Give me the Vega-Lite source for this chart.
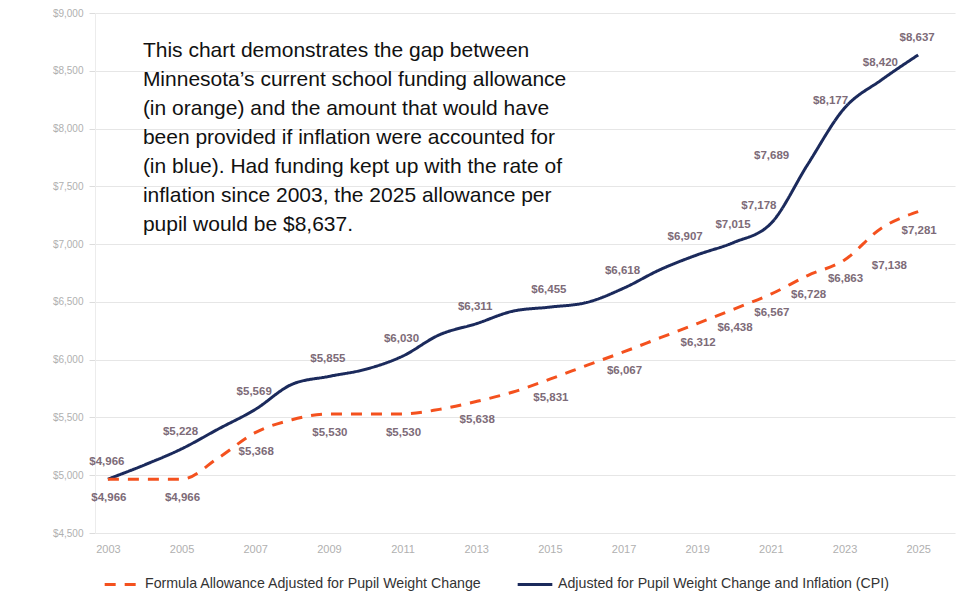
{
  "$schema": "https://vega.github.io/schema/vega-lite/v6.json",
  "width": 860,
  "height": 520,
  "autosize": "none",
  "padding": {"left": 95, "top": 13, "right": 9, "bottom": 63},
  "background": "white",
  "config": {
    "view": {"stroke": null},
    "font": "Liberation Sans",
    "axis": {"labelFont": "Liberation Sans", "labelColor": "#b0b0b0", "labelFontSize": 10},
    "text": {"fontSize": 11.5, "fontWeight": "bold", "color": "#7d6b78", "font": "Liberation Sans"}
  },
  "datasets": {
    "funding": [
      {"year": 2003, "series": "Adjusted for Pupil Weight Change and Inflation (CPI)", "value": 4966},
      {"year": 2004, "series": "Adjusted for Pupil Weight Change and Inflation (CPI)", "value": 5090},
      {"year": 2005, "series": "Adjusted for Pupil Weight Change and Inflation (CPI)", "value": 5228},
      {"year": 2006, "series": "Adjusted for Pupil Weight Change and Inflation (CPI)", "value": 5400},
      {"year": 2007, "series": "Adjusted for Pupil Weight Change and Inflation (CPI)", "value": 5569},
      {"year": 2008, "series": "Adjusted for Pupil Weight Change and Inflation (CPI)", "value": 5787},
      {"year": 2009, "series": "Adjusted for Pupil Weight Change and Inflation (CPI)", "value": 5855},
      {"year": 2010, "series": "Adjusted for Pupil Weight Change and Inflation (CPI)", "value": 5917},
      {"year": 2011, "series": "Adjusted for Pupil Weight Change and Inflation (CPI)", "value": 6030},
      {"year": 2012, "series": "Adjusted for Pupil Weight Change and Inflation (CPI)", "value": 6215},
      {"year": 2013, "series": "Adjusted for Pupil Weight Change and Inflation (CPI)", "value": 6311},
      {"year": 2014, "series": "Adjusted for Pupil Weight Change and Inflation (CPI)", "value": 6420},
      {"year": 2015, "series": "Adjusted for Pupil Weight Change and Inflation (CPI)", "value": 6455},
      {"year": 2016, "series": "Adjusted for Pupil Weight Change and Inflation (CPI)", "value": 6495},
      {"year": 2017, "series": "Adjusted for Pupil Weight Change and Inflation (CPI)", "value": 6618},
      {"year": 2018, "series": "Adjusted for Pupil Weight Change and Inflation (CPI)", "value": 6780},
      {"year": 2019, "series": "Adjusted for Pupil Weight Change and Inflation (CPI)", "value": 6907},
      {"year": 2020, "series": "Adjusted for Pupil Weight Change and Inflation (CPI)", "value": 7015},
      {"year": 2021, "series": "Adjusted for Pupil Weight Change and Inflation (CPI)", "value": 7178},
      {"year": 2022, "series": "Adjusted for Pupil Weight Change and Inflation (CPI)", "value": 7689},
      {"year": 2023, "series": "Adjusted for Pupil Weight Change and Inflation (CPI)", "value": 8177},
      {"year": 2024, "series": "Adjusted for Pupil Weight Change and Inflation (CPI)", "value": 8420},
      {"year": 2025, "series": "Adjusted for Pupil Weight Change and Inflation (CPI)", "value": 8637},
      {"year": 2003, "series": "Formula Allowance Adjusted for Pupil Weight Change", "value": 4966},
      {"year": 2004, "series": "Formula Allowance Adjusted for Pupil Weight Change", "value": 4966},
      {"year": 2005, "series": "Formula Allowance Adjusted for Pupil Weight Change", "value": 4966},
      {"year": 2006, "series": "Formula Allowance Adjusted for Pupil Weight Change", "value": 5150},
      {"year": 2007, "series": "Formula Allowance Adjusted for Pupil Weight Change", "value": 5368},
      {"year": 2008, "series": "Formula Allowance Adjusted for Pupil Weight Change", "value": 5480},
      {"year": 2009, "series": "Formula Allowance Adjusted for Pupil Weight Change", "value": 5530},
      {"year": 2010, "series": "Formula Allowance Adjusted for Pupil Weight Change", "value": 5530},
      {"year": 2011, "series": "Formula Allowance Adjusted for Pupil Weight Change", "value": 5530},
      {"year": 2012, "series": "Formula Allowance Adjusted for Pupil Weight Change", "value": 5570},
      {"year": 2013, "series": "Formula Allowance Adjusted for Pupil Weight Change", "value": 5638},
      {"year": 2014, "series": "Formula Allowance Adjusted for Pupil Weight Change", "value": 5720},
      {"year": 2015, "series": "Formula Allowance Adjusted for Pupil Weight Change", "value": 5831},
      {"year": 2016, "series": "Formula Allowance Adjusted for Pupil Weight Change", "value": 5950},
      {"year": 2017, "series": "Formula Allowance Adjusted for Pupil Weight Change", "value": 6067},
      {"year": 2018, "series": "Formula Allowance Adjusted for Pupil Weight Change", "value": 6190},
      {"year": 2019, "series": "Formula Allowance Adjusted for Pupil Weight Change", "value": 6312},
      {"year": 2020, "series": "Formula Allowance Adjusted for Pupil Weight Change", "value": 6438},
      {"year": 2021, "series": "Formula Allowance Adjusted for Pupil Weight Change", "value": 6567},
      {"year": 2022, "series": "Formula Allowance Adjusted for Pupil Weight Change", "value": 6728},
      {"year": 2023, "series": "Formula Allowance Adjusted for Pupil Weight Change", "value": 6863},
      {"year": 2024, "series": "Formula Allowance Adjusted for Pupil Weight Change", "value": 7138},
      {"year": 2025, "series": "Formula Allowance Adjusted for Pupil Weight Change", "value": 7281}
    ],
    "note": [
      {"year": 2003.95, "value": 8770, "text": "This chart demonstrates the gap between|Minnesota’s current school funding allowance|(in orange) and the amount that would have|been provided if inflation were accounted for|(in blue). Had funding kept up with the rate of|inflation since 2003, the 2025 allowance per|pupil would be $8,637."}
    ]
  },
  "data": {"name": "funding"},
  "encoding": {
    "x": {
      "field": "year", "type": "quantitative",
      "scale": {"domain": [2002.65, 2026], "nice": false, "zero": false},
      "axis": {
        "title": null, "values": [2003, 2005, 2007, 2009, 2011, 2013, 2015, 2017, 2019, 2021, 2023, 2025],
        "format": "d", "grid": false, "domain": false, "ticks": false, "labelPadding": 10, "labelFontSize": 11
      }
    },
    "y": {
      "field": "value", "type": "quantitative",
      "scale": {"domain": [4500, 9000], "nice": false, "zero": false},
      "axis": {
        "title": null, "values": [4500, 5000, 5500, 6000, 6500, 7000, 7500, 8000, 8500, 9000],
        "format": "$,d", "grid": true, "gridColor": "#e6e6e6", "gridWidth": 1.2,
        "domain": true, "domainColor": "#ececec", "tickColor": "#dcdcdc", "tickSize": 6, "labelPadding": 6
      }
    }
  },
  "layer": [
    {
      "mark": {"type": "line", "strokeWidth": 3, "strokeCap": "butt", "interpolate": "monotone"},
      "encoding": {
        "color": {
          "field": "series", "type": "nominal",
          "scale": {
            "domain": ["Formula Allowance Adjusted for Pupil Weight Change", "Adjusted for Pupil Weight Change and Inflation (CPI)"],
            "range": ["#f4511e", "#1b2a5c"]
          },
          "legend": {
            "title": null, "orient": "none", "legendX": 8, "legendY": 552, "direction": "horizontal",
            "symbolType": "stroke", "symbolSize": 1200, "symbolStrokeWidth": 3,
            "labelFontSize": 14.2, "labelColor": "#333333", "labelFont": "Liberation Sans", "labelLimit": 0,
            "columnPadding": 28, "labelOffset": 4
          }
        },
        "strokeDash": {
          "field": "series", "type": "nominal",
          "scale": {
            "domain": ["Formula Allowance Adjusted for Pupil Weight Change", "Adjusted for Pupil Weight Change and Inflation (CPI)"],
            "range": [[11, 9], [1, 0]]
          },
          "legend": null
        }
      }
    },
    {
      "transform": [
        {"filter": "datum.series == 'Adjusted for Pupil Weight Change and Inflation (CPI)'"},
        {"filter": {"field": "year", "oneOf": [2003, 2005, 2007, 2009, 2011, 2013, 2015, 2017, 2020, 2024, 2025]}}
      ],
      "mark": {"type": "text", "dy": -17, "dx": -1},
      "encoding": {"text": {"field": "value", "type": "quantitative", "format": "$,d"}}
    },
    {
      "transform": [
        {"filter": "datum.series == 'Adjusted for Pupil Weight Change and Inflation (CPI)'"},
        {"filter": {"field": "year", "oneOf": [2019, 2021]}}
      ],
      "mark": {"type": "text", "dy": -18, "dx": -12},
      "encoding": {"text": {"field": "value", "type": "quantitative", "format": "$,d"}}
    },
    {
      "transform": [
        {"filter": "datum.series == 'Adjusted for Pupil Weight Change and Inflation (CPI)'"},
        {"filter": {"field": "year", "oneOf": [2022]}}
      ],
      "mark": {"type": "text", "dy": -8, "dx": -36},
      "encoding": {"text": {"field": "value", "type": "quantitative", "format": "$,d"}}
    },
    {
      "transform": [
        {"filter": "datum.series == 'Adjusted for Pupil Weight Change and Inflation (CPI)'"},
        {"filter": {"field": "year", "oneOf": [2023]}}
      ],
      "mark": {"type": "text", "dy": -7, "dx": -14},
      "encoding": {"text": {"field": "value", "type": "quantitative", "format": "$,d"}}
    },
    {
      "transform": [
        {"filter": "datum.series == 'Formula Allowance Adjusted for Pupil Weight Change'"},
        {"filter": {"field": "year", "oneOf": [2003, 2005, 2007, 2009, 2011, 2013, 2015, 2017, 2019, 2020, 2021, 2022, 2023, 2025]}}
      ],
      "mark": {"type": "text", "dy": 19, "dx": 1},
      "encoding": {"text": {"field": "value", "type": "quantitative", "format": "$,d"}}
    },
    {
      "transform": [
        {"filter": "datum.series == 'Formula Allowance Adjusted for Pupil Weight Change'"},
        {"filter": {"field": "year", "oneOf": [2024]}}
      ],
      "mark": {"type": "text", "dy": 38, "dx": 8},
      "encoding": {"text": {"field": "value", "type": "quantitative", "format": "$,d"}}
    },
    {
      "data": {"name": "note"},
      "mark": {"type": "text", "align": "left", "baseline": "top", "fontSize": 21, "fontWeight": "normal", "lineHeight": 29, "lineBreak": "|", "color": "#111111", "font": "Liberation Sans"},
      "encoding": {"text": {"field": "text"}}
    }
  ]
}
